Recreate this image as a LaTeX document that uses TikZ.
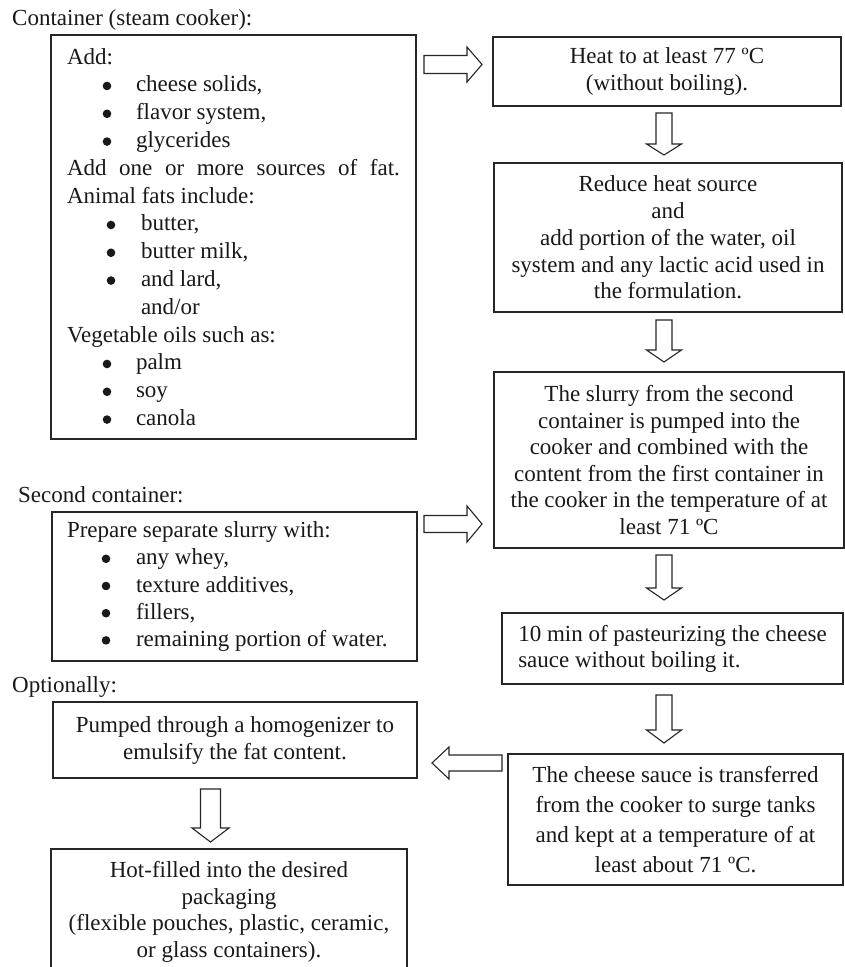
\documentclass[tikz,border=0pt]{standalone}
\usepackage{fontspec}
\setmainfont{Liberation Serif}
\newcommand\fsz[1]{\fontsize{23}{#1}\selectfont}
\newcommand\bigbul{\makebox[0pt][c]{\tikz[baseline=0pt]\fill[black!90] (0pt,6pt) circle[radius=4.3pt];}}
\newcommand\bA[1]{\hspace*{40pt}\bigbul\hspace*{29pt}#1}
\newcommand\bB[1]{\hspace*{44pt}\bigbul\hspace*{30pt}#1}
\newcommand\bC[1]{\hspace*{39pt}\bigbul\hspace*{30pt}#1}
\newcommand\darr[6]{\draw[barrow] ({#1-#5},#2) -- ({#1+#5},#2) -- ({#1+#5},{#3-#4}) -- ({#1+#6},{#3-#4}) -- (#1,#3) -- ({#1-#6},{#3-#4}) -- ({#1-#5},{#3-#4}) -- cycle;}
\newcommand\rarr[6]{\draw[barrow] (#2,{#1-#5}) -- (#2,{#1+#5}) -- ({#3-#4},{#1+#5}) -- ({#3-#4},{#1+#6}) -- (#3,#1) -- ({#3-#4},{#1-#6}) -- ({#3-#4},{#1-#5}) -- cycle;}
\newcommand\larr[6]{\draw[barrow] (#3,{#1-#5}) -- (#3,{#1+#5}) -- ({#2+#4},{#1+#5}) -- ({#2+#4},{#1+#6}) -- (#2,#1) -- ({#2+#4},{#1-#6}) -- ({#2+#4},{#1-#5}) -- cycle;}
\tikzset{
  box/.style={draw=black!85, line width=1.2pt, inner sep=0pt, text=black!90},
  lbl/.style={inner sep=0pt, anchor=base west, font=\fsz{27}, text=black!90},
  barrow/.style={draw=black!85, line width=1.1pt, line join=miter},
}
\begin{document}
\begin{tikzpicture}[x=1pt,y=-1pt]
\useasboundingbox (0,0) rectangle (845,967);
\clip (0,0) rectangle (845,967);
\fill[white] (0,0) rectangle (845,967);

% labels
\node[lbl] (lab1) at (12,25.5) {Container (steam cooker):};
\node[lbl] (lab2) at (18,502) {Second container:};
\node[lbl] (lab3) at (12,692) {Optionally:};

% left column
\node[box, minimum width=365pt, minimum height=404pt, text width=333pt, align=flush left, font=\fsz{27.8}] (c1) at (233.5,237) {%
Add:\\
\bA{cheese solids,}\\
\bA{flavor system,}\\
\bA{glycerides}\\
\makebox[333pt][s]{Add one or more sources of fat.}\\
Animal fats include:\\
\bB{butter,}\\
\bB{butter milk,}\\
\bB{and lard,}\\
\hspace*{74pt}and/or\\
Vegetable oils such as:\\
\bA{palm}\\
\bA{soy}\\
\bA{canola}};

\node[box, minimum width=365pt, minimum height=149pt, text width=335pt, align=flush left, font=\fsz{27.2}] (c2) at (234.5,586.5) {%
Prepare separate slurry with:\\
\bC{any whey,}\\
\bC{texture additives,}\\
\bC{fillers,}\\
\bC{remaining portion of water.}};

\node[box, minimum width=364pt, minimum height=76pt, align=flush center, font=\fsz{27}] (hom) at (235,740) {%
Pumped through a homogenizer to\\emulsify the fat content.};

\node[box, minimum width=356pt, minimum height=126pt, align=flush center, font=\fsz{26.7}] (hot) at (229,912) {%
Hot-filled into the desired\\packaging\\(flexible pouches, plastic, ceramic,\\or glass containers).};

% right column
\node[box, minimum width=348pt, minimum height=69pt, align=flush center, font=\fsz{27}] (heat) at (667,71.5) {%
Heat to at least 77 ºC\\(without boiling).};

\node[box, minimum width=348pt, minimum height=149pt, align=flush center, font=\fsz{26.7}] (red) at (668,237.5) {%
Reduce heat source\\and\\add portion of the water, oil\\system and any lactic acid used in\\the formulation.};

\node[box, minimum width=350pt, minimum height=176pt, align=flush center, font=\fsz{26.6}] (slur) at (669,460) {%
The slurry from the second\\container is pumped into the\\cooker and combined with the\\content from the first container in\\the cooker in the temperature of at\\least 71 ºC};

\node[box, minimum width=341pt, minimum height=71pt, align=flush left, font=\fsz{26}] (past) at (672.5,648.5) {%
10 min of pasteurizing the cheese\\sauce without boiling it.};

\node[box, minimum width=335pt, minimum height=131pt, align=flush center, font=\fsz{30}] (trans) at (675.5,819.5) {%
The cheese sauce is transferred\\from the cooker to surge tanks\\and kept at a temperature of at\\least about 71 ºC.};

% block arrows
\rarr{64.5}{424}{482}{15}{9}{17.5}
\rarr{524}{424}{482}{15}{8.5}{18}
\darr{664}{113}{155}{11}{8}{17.5}
\darr{664}{320}{362}{12}{8}{17.5}
\darr{664}{555}{600}{12}{8}{17.5}
\darr{664}{695}{743}{13}{8}{17.5}
\darr{210.5}{789}{842}{14}{10}{18.5}
\larr{763}{432}{502}{17}{8}{16}
\end{tikzpicture}
\end{document}
